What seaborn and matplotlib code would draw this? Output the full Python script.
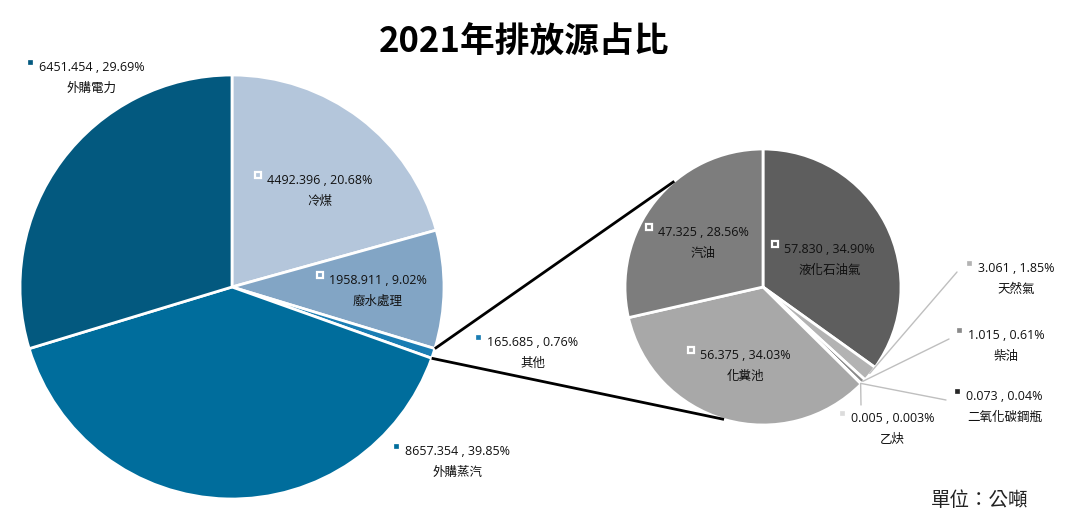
import numpy as np
import matplotlib
matplotlib.use("Agg")
import matplotlib.pyplot as plt
import seaborn as sns

# ---------------- data ----------------
main_labels = ["冷煤", "廢水處理", "其他", "外購蒸汽", "外購電力"]
main_values = [4492.396, 1958.911, 165.685, 8657.354, 6451.454]
main_pcts = ["20.68%", "9.02%", "0.76%", "39.85%", "29.69%"]

sub_labels = ["液化石油氣", "天然氣", "柴油", "二氧化碳鋼瓶", "乙炔", "化糞池", "汽油"]
sub_values = [57.830, 3.061, 1.015, 0.073, 0.005, 56.375, 47.325]
sub_pcts = ["34.90%", "1.85%", "0.61%", "0.04%", "0.003%", "34.03%", "28.56%"]

title = "2021年排放源占比"
unit_note = "單位：公噸"

# ---------------- style / layout ----------------
main_colors = ["#B4C6DB", "#82A5C5", "#1A7DB3", "#006D9C", "#03597F"]
sub_colors = ["#5E5E5E", "#B3B3B3", "#8A8A8A", "#262626", "#DCDCDC", "#A8A8A8", "#7D7D7D"]

W, H = 1080, 525
main_center, main_r = (232, 287), 212
sub_center, sub_r = (763, 287), 138

# label key-square positions (pixel, top-left origin) and whether inside slice
main_marks = [(258, 175, True), (320, 275, True), (478, 337, False),
              (396, 446, False), (30, 62, False)]
sub_marks = [(775, 244, True), (969, 263, False), (959, 330, False),
             (957, 391, False), (842, 413, False), (691, 350, True), (649, 227, True)]
# leader line end points for outside labels of the secondary pie
sub_leader_end = {1: (957, 272), 2: (949, 339), 3: (946, 400), 4: (861, 405)}
# where connector lines meet the secondary pie (math degrees)
conn_angles = (130.0, -106.4)

sns.set_theme(style="white")
plt.rcParams["font.family"] = ["Open Sans", "Noto Sans CJK TC", "DejaVu Sans"]

fig = plt.figure(figsize=(W / 100, H / 100), dpi=100)
ax = fig.add_axes([0, 0, 1, 1])


def Y(y):
    return H - y


wp = dict(edgecolor="white", linewidth=2)
ax.pie(main_values, colors=main_colors, startangle=90, counterclock=False,
       center=(main_center[0], Y(main_center[1])), radius=main_r,
       wedgeprops=wp, frame=True)
ax.pie(sub_values, colors=sub_colors, startangle=90, counterclock=False,
       center=(sub_center[0], Y(sub_center[1])), radius=sub_r,
       wedgeprops=wp, frame=True)

ax.set_xlim(0, W)
ax.set_ylim(0, H)
ax.set_aspect("equal")
ax.axis("off")

# connector lines from the "其他" slice to the secondary pie
tot = sum(main_values)
idx = main_labels.index("其他")
f0 = sum(main_values[:idx]) / tot
f1 = sum(main_values[:idx + 1]) / tot
for f, a2 in zip((f0, f1), conn_angles):
    a1 = np.deg2rad(90 - 360 * f)
    x1 = main_center[0] + main_r * np.cos(a1)
    y1 = Y(main_center[1]) + main_r * np.sin(a1)
    a2r = np.deg2rad(a2)
    x2 = sub_center[0] + sub_r * np.cos(a2r)
    y2 = Y(sub_center[1]) + sub_r * np.sin(a2r)
    ax.plot([x1, x2], [y1, y2], color="black", lw=2, solid_capstyle="butt")

# leader lines in secondary pie
stot = sum(sub_values)
for i, end in sub_leader_end.items():
    fm = (sum(sub_values[:i]) + sub_values[i] / 2) / stot
    a = np.deg2rad(90 - 360 * fm)
    xs = sub_center[0] + sub_r * 0.995 * np.cos(a)
    ys = Y(sub_center[1]) + sub_r * 0.995 * np.sin(a)
    ax.plot([xs, end[0]], [ys, Y(end[1])], color="#BFBFBF", lw=1)

renderer = fig.canvas.get_renderer()


def add_label(mx, my, num, name, color, inside):
    if inside:
        ax.plot(mx, Y(my), marker="s", ms=5, mfc=color, mec="white", mew=1.6)
    else:
        ax.plot(mx, Y(my), marker="s", ms=3, mfc=color, mec=color, mew=0.5)
    t = ax.text(mx + 9, Y(my + 5.5), num, ha="left", va="center",
                fontsize=9, color="#111111")
    w = t.get_window_extent(renderer=renderer).width
    ax.text(mx + 9 + w / 2, Y(my + 26.5), name, ha="center", va="center",
            fontsize=9, color="#111111")


for (mx, my, ins), v, p, n, c in zip(main_marks, main_values, main_pcts, main_labels, main_colors):
    add_label(mx, my, f"{v:.3f} , {p}", n, c, ins)
for (mx, my, ins), v, p, n, c in zip(sub_marks, sub_values, sub_pcts, sub_labels, sub_colors):
    add_label(mx, my, f"{v:.3f} , {p}", n, c, ins)

ax.text(524, Y(42), title, ha="center", va="center", fontsize=25,
        fontweight="bold", family=["Noto Sans CJK TC"], color="black")
ax.text(980, Y(500), unit_note, ha="center", va="center", fontsize=14,
        family=["Noto Sans CJK TC"], color="#222222")

fig.savefig("out.png", dpi=100)
